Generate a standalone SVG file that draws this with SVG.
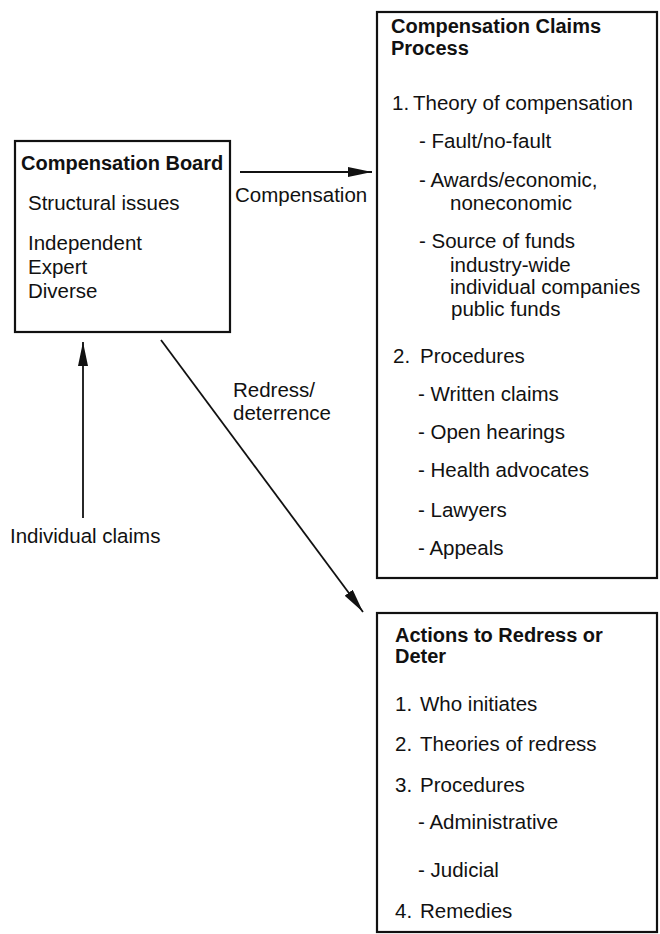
<svg xmlns="http://www.w3.org/2000/svg" width="660" height="934" viewBox="0 0 660 934">
<style>
text{font-family:"Liberation Sans",Arial,Helvetica,sans-serif;font-size:20.5px;fill:#111}
.b{font-weight:bold;font-size:20px}
.box{fill:#fff;stroke:#111;stroke-width:2.2}
.ln{stroke:#111;stroke-width:1.8;fill:none}
</style>
<defs>
<marker id="ah" viewBox="0 0 24 10" refX="24" refY="5" markerWidth="24" markerHeight="10" markerUnits="userSpaceOnUse" orient="auto">
<path d="M0,0 L24,5 L0,10 Z" fill="#111"/>
</marker>
</defs>
<rect width="660" height="934" fill="#fff"/>
<g id="board">
<rect class="box" x="15" y="141" width="215" height="191"/>
<text class="b" x="21" y="170">Compensation Board</text>
<text x="28" y="210">Structural issues</text>
<text x="28" y="250">Independent</text>
<text x="28" y="274">Expert</text>
<text x="28" y="298">Diverse</text>
</g>
<g id="claims">
<rect class="box" x="377" y="12" width="280" height="566"/>
<text class="b" x="391" y="33">Compensation Claims</text>
<text class="b" x="391" y="55">Process</text>
<text x="392" y="110">1.<tspan x="413">Theory of compensation</tspan></text>
<text x="419" y="148">- Fault/no-fault</text>
<text x="419" y="187">- Awards/economic,</text>
<text x="450" y="210">noneconomic</text>
<text x="419" y="248">- Source of funds</text>
<text x="450" y="272">industry-wide</text>
<text x="450" y="294">individual companies</text>
<text x="451" y="316">public funds</text>
<text x="393" y="363">2.<tspan x="420">Procedures</tspan></text>
<text x="418" y="401">- Written claims</text>
<text x="418" y="439">- Open hearings</text>
<text x="418" y="477">- Health advocates</text>
<text x="418" y="517">- Lawyers</text>
<text x="418" y="555">- Appeals</text>
</g>
<g id="actions">
<rect class="box" x="377" y="613" width="280" height="319"/>
<text class="b" x="395" y="642">Actions to Redress or</text>
<text class="b" x="395" y="663">Deter</text>
<text x="395" y="711">1.<tspan x="420">Who initiates</tspan></text>
<text x="395" y="751">2.<tspan x="420">Theories of redress</tspan></text>
<text x="395" y="792">3.<tspan x="420">Procedures</tspan></text>
<text x="418" y="829">- Administrative</text>
<text x="418" y="877">- Judicial</text>
<text x="395" y="918">4.<tspan x="420">Remedies</tspan></text>
</g>
<g id="connectors">
<line class="ln" x1="240" y1="172" x2="372" y2="172" marker-end="url(#ah)"/>
<text x="235" y="202">Compensation</text>
<line class="ln" x1="83" y1="518" x2="83" y2="342" marker-end="url(#ah)"/>
<text x="10" y="543">Individual claims</text>
<line class="ln" x1="161" y1="340" x2="363" y2="612" marker-end="url(#ah)"/>
<text x="233" y="397">Redress/</text>
<text x="233" y="420">deterrence</text>
</g>
</svg>
